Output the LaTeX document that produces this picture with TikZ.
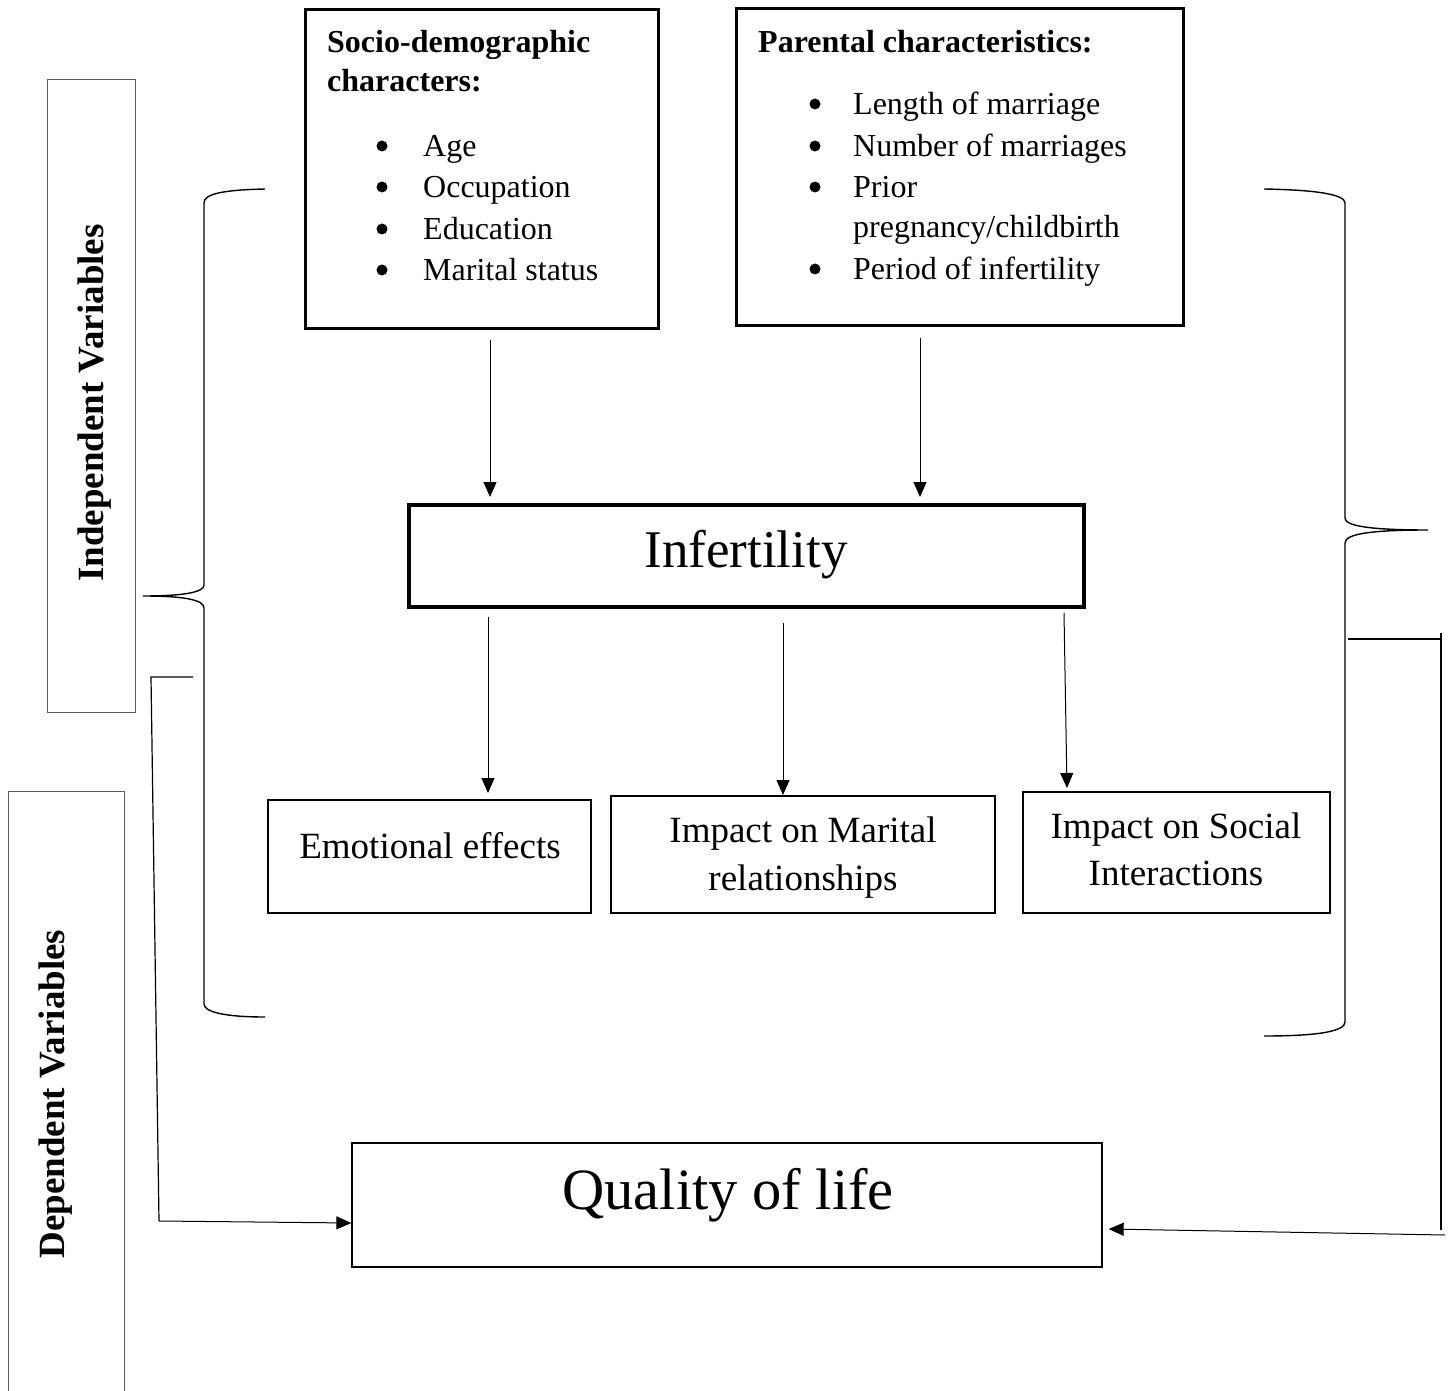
\documentclass[tikz,border=0pt]{standalone}
\usepackage{fontspec}
\setmainfont{Liberation Serif}
\usetikzlibrary{arrows.meta,calc}
\begin{document}
\begin{tikzpicture}[x=1pt,y=-1pt,
  sidebox/.style={draw=black!65,line width=1pt},
  txt/.style={inner sep=0},
  bodyf/.style={font=\fontsize{32}{38}\selectfont},
  headf/.style={font=\bfseries\fontsize{32}{38}\selectfont},
  labf/.style={font=\fontsize{37}{47}\selectfont},
  bul/.style={circle,fill,inner sep=0,minimum size=11pt},
  arr/.style={line width=1pt,-{Triangle[length=15pt,width=13pt]}},
  brace/.style={line width=1.4pt},
  conn/.style={line width=1.2pt}]
\useasboundingbox (0,0) rectangle (1452,1391);

% side boxes
\draw[sidebox] (47,80) rectangle (135,712);
\draw[sidebox] (8,1392) -- (8,791) -- (124,791) -- (124,1392);
\node[txt,anchor=base,rotate=90,font=\bfseries\fontsize{37}{40}\selectfont] (indep) at (103,403) {Independent Variables};
\node[txt,anchor=base,rotate=90,font=\bfseries\fontsize{37}{40}\selectfont] (dep) at (64,1094) {Dependent Variables};

% top boxes
\node[draw,line width=3pt,minimum width=353pt,minimum height=318pt] (socio) at (481.5,169) {};
\node[draw,line width=3pt,minimum width=447pt,minimum height=316pt] (paren) at (959.5,167) {};

\node[txt,headf,anchor=base west] (s1) at (327,52.5) {Socio-demographic};
\node[txt,headf,anchor=base west] (s2) at (327,91.5) {characters:};
\foreach \y/\t [count=\i] in {146/Age,187/Occupation,229/Education,270/Marital status}{
  \node[bul] (sb\i) at (382,\y) {};
  \node[txt,bodyf,anchor=base west] (st\i) at (423,\y+10.5) {\t};
}
\node[txt,headf,anchor=base west] (p1) at (758,52.5) {Parental characteristics:};
\foreach \y [count=\i] in {104,146,187,269}{
  \node[bul] (pb\i) at (815,\y) {};
}
\node[txt,bodyf,anchor=base west] (pt1) at (853,114.5) {Length of marriage};
\node[txt,bodyf,anchor=base west] (pt2) at (853,156.5) {Number of marriages};
\node[txt,bodyf,anchor=base west] (pt3) at (853,197.5) {Prior};
\node[txt,bodyf,anchor=base west] (pt3b) at (853,237.5) {pregnancy/childbirth};
\node[txt,bodyf,anchor=base west] (pt4) at (853,279.5) {Period of infertility};

% infertility
\node[draw,line width=3.2pt,minimum width=675pt,minimum height=102pt] (inf) at (746.5,556) {};
\node[txt,anchor=base,font=\fontsize{53}{60}\selectfont] (inft) at (746,567.5) {Infertility};

% effect boxes
\node[draw,line width=2.2pt,minimum width=323pt,minimum height=113pt] (emo) at (429.5,856.5) {};
\node[draw,line width=2.2pt,minimum width=384pt,minimum height=117pt] (mar) at (803,854.5) {};
\node[draw,line width=2.2pt,minimum width=307pt,minimum height=121pt] (soc) at (1176.5,852.5) {};
\node[txt,labf,anchor=base] (emot) at (430,858) {Emotional effects};
\node[txt,labf,anchor=base] (mar1) at (803,842) {Impact on Marital};
\node[txt,labf,anchor=base] (mar2) at (803,890) {relationships};
\node[txt,labf,anchor=base] (soc1) at (1176,838) {Impact on Social};
\node[txt,labf,anchor=base] (soc2) at (1176,885) {Interactions};

% quality of life
\node[draw,line width=1.3pt,minimum width=750pt,minimum height=124pt] (qol) at (727,1205) {};
\node[txt,anchor=base,font=\fontsize{58.5}{66}\selectfont] (qolt) at (728,1209) {Quality of life};

% arrows
\coordinate (a1) at (490,340);
\coordinate (a2) at (920,338);
\coordinate (a3) at (488,617);
\coordinate (a4) at (783,623);
\coordinate (a5) at (1064,613);
\draw[arr] (a1) -- (a1 |- 0,497);
\draw[arr] (a2) -- (a2 |- 0,497);
\draw[arr] (a3) -- (a3 |- 0,793);
\draw[arr] (a4) -- (a4 |- 0,795);
\draw[arr] (a5) -- (1067,788);

% braces
\draw[brace] (265,189) .. controls (222,190) and (204,194) .. (204,203) -- (204,585)
  .. controls (204,592) and (185,596) .. (143,596)
  .. controls (185,596) and (204,600) .. (204,608) -- (204,1004)
  .. controls (204,1012) and (225,1017) .. (265,1017);
\draw[brace] (1264,189) .. controls (1320,190) and (1345,195) .. (1345,203) -- (1345,518)
  .. controls (1345,526) and (1370,530) .. (1428,530)
  .. controls (1370,530) and (1345,534) .. (1345,543) -- (1345,1022)
  .. controls (1345,1031) and (1320,1036) .. (1264,1036);

% feedback connectors
\coordinate (L1) at (193,677);
\coordinate (L2) at (151,677);
\coordinate (L3) at (159,1221);
\draw[conn] (L1) -- (L2) -- (L3);
\draw[arr] (L3) -- (qol.west |- 0,1223);
\coordinate (R1) at (1348,639);
\coordinate (R2) at (1441,639);
\draw[conn] (R1) -- (R2);
\draw[conn] (1441,633) -- (1441,1230);
\coordinate (R4) at (1445,1235);
\draw[arr] (R4) -- ($(qol.east |- 0,1229)+(6,0)$);
\end{tikzpicture}
\end{document}
